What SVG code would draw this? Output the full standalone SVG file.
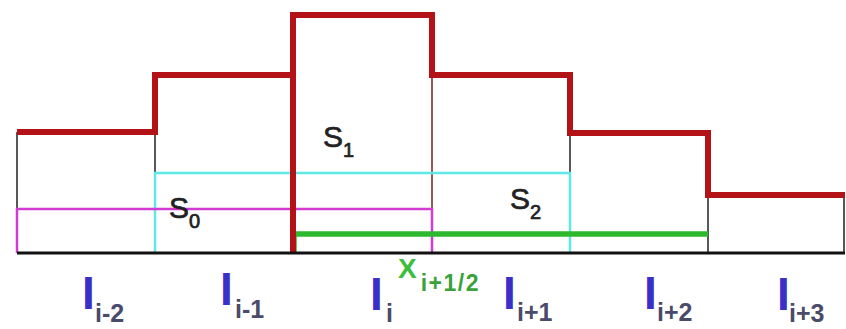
<svg xmlns="http://www.w3.org/2000/svg" width="846" height="329" viewBox="0 0 846 329">
<style>
.thin{stroke:#222;stroke-width:1.5;fill:none}
.red{stroke:#b31217;stroke-width:6;fill:none;stroke-linejoin:miter}
.cyan{stroke:#5ee8e8;stroke-width:2.5;fill:none}
.mag{stroke:#d23ad2;stroke-width:2.5;fill:none}
.grn{stroke:#2db82d;stroke-width:5.5;fill:none}
.s{font-family:"Liberation Sans",Arial,sans-serif;fill:#222;stroke:#222;stroke-width:0.7;font-size:30px}
.ss{font-size:20px}
.I{font-family:"Liberation Sans",Arial,sans-serif;font-weight:bold;fill:#3a30c8;font-size:46px}
.sub{font-family:"Liberation Sans",Arial,sans-serif;font-weight:bold;fill:#4a4a6a;font-size:25px}
.x{font-family:"Liberation Sans",Arial,sans-serif;font-weight:bold;fill:#3cbf3c;font-size:28px}
.xs{font-size:23px;fill:#3aa23a}
</style>
<rect width="846" height="329" fill="#fff"/>
<g id="connectors">
<path class="thin" d="M17 132V253M155 75V253M570 133V253M708 195V253M844 195V253"/>
<path d="M432 75V253" stroke="#7a2020" stroke-width="1.5" fill="none"/>
<path class="cyan" d="M155 253V173H570V253"/>
<path class="mag" d="M17 253V209H432V253"/>
<path class="grn" d="M294 253V234H708"/>
<path class="red" d="M17 132H155V75H293V15H432V75H570V133H708V195H845"/>
<path class="red" d="M293 15V253" stroke-width="5"/>
<path d="M17 253H845" stroke="#111" stroke-width="3"/>
</g>
<g id="S0"><text class="s" x="169" y="218">S<tspan class="ss" dy="10">0</tspan></text></g>
<g id="S1"><text class="s" x="323" y="147">S<tspan class="ss" dy="10">1</tspan></text></g>
<g id="S2"><text class="s" x="510" y="209">S<tspan class="ss" dy="10">2</tspan></text></g>
<g id="X"><text class="x" x="398" y="278">X<tspan class="xs" dy="13" dx="4" letter-spacing="1.5">i+1/2</tspan></text></g>
<g id="Im2"><text class="I" x="82" y="309">I</text><text class="sub" x="95" y="322">i-2</text></g>
<g id="Im1"><text class="I" x="220" y="305">I</text><text class="sub" x="235" y="318">i-1</text></g>
<g id="Ii"><text class="I" x="370" y="310">I</text><text class="sub" x="386" y="322">i</text></g>
<g id="Ip1"><text class="I" x="503" y="309">I</text><text class="sub" x="517" y="321">i+1</text></g>
<g id="Ip2"><text class="I" x="644" y="309">I</text><text class="sub" x="657" y="321">i+2</text></g>
<g id="Ip3"><text class="I" x="777" y="310">I</text><text class="sub" x="789" y="322">i+3</text></g>
</svg>
